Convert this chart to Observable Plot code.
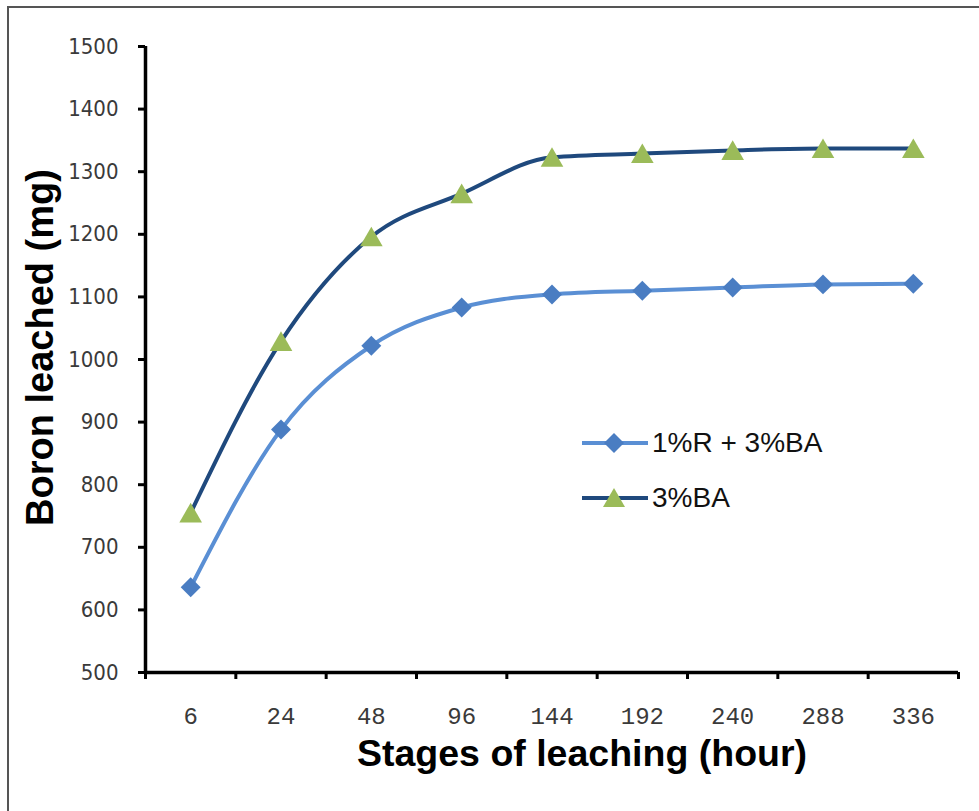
<!DOCTYPE html>
<html>
<head>
<meta charset="utf-8">
<script src="https://cdn.jsdelivr.net/npm/d3@7"></script>
<script src="https://cdn.jsdelivr.net/npm/@observablehq/plot@0.6"></script>
<style>
  html, body { margin: 0; padding: 0; background: #fff; }
  #wrap { position: relative; width: 979px; height: 811px; overflow: hidden; }
  #border { position: absolute; left: 7px; top: 6px; right: -10px; bottom: -10px;
            border-top: 2px solid #555; border-left: 2px solid #555; pointer-events: none; }
  #legend { position: absolute; left: 582px; top: 415px; font-family: "Liberation Sans", Arial, sans-serif;
            font-size: 28px; color: #111; }
  #legend .row { display: flex; align-items: center; height: 55px; }
  #legend svg { margin-right: 4px; }
</style>
</head>
<body>
<div id="wrap"><div id="chart"></div><div id="border"></div><div id="legend"></div></div>
<script>
const stages = ["6", "24", "48", "96", "144", "192", "240", "288", "336"];
const seriesNames = ["1%R + 3%BA", "3%BA"];
const valuesRBA = [636, 888, 1022, 1083, 1104, 1110, 1115, 1120, 1121];
const valuesBA  = [755, 1029, 1196, 1265, 1323, 1329, 1334, 1337, 1337];
const yTicks = [500, 600, 700, 800, 900, 1000, 1100, 1200, 1300, 1400, 1500];
const yDomain = [500, 1500];
const lineColors = ["#5A8FD4", "#1F497D"];
const markColors = ["#4A7DC2", "#9BBB59"];

const s1 = stages.map((s, i) => ({i, stage: s, value: valuesRBA[i]}));
const s2 = stages.map((s, i) => ({i, stage: s, value: valuesBA[i]}));
const xDomain = [-0.5, stages.length - 0.5];
const boundaries = d3.range(stages.length + 1).map(k => k - 0.5);

const plot = Plot.plot({
  width: 979,
  height: 811,
  marginLeft: 145,
  marginRight: 21,
  marginTop: 46,
  marginBottom: 139,
  style: {background: "#fff", overflow: "visible"},
  x: {type: "linear", domain: xDomain},
  y: {domain: yDomain},
  marks: [
    Plot.axisY({ticks: yTicks, tickSize: 7, tickPadding: 20, strokeWidth: 3, stroke: "#000",
      tickFormat: d => String(d), fontSize: 22, fill: "#3a3a3a",
      fontFamily: "DejaVu Sans Condensed, DejaVu Sans, sans-serif", label: null}),
    Plot.axisX({ticks: boundaries, tickSize: 7, strokeWidth: 3, stroke: "#000", tickFormat: () => "", label: null}),
    Plot.axisX({ticks: d3.range(stages.length), tickSize: 0, tickPadding: 34,
      tickFormat: i => stages[i], fontSize: 24, fill: "#3a3a3a",
      fontFamily: "Liberation Mono, Courier New, monospace", label: null}),
    Plot.ruleY([yDomain[0]], {stroke: "#000", strokeWidth: 3.5}),
    Plot.ruleX([xDomain[0]], {stroke: "#000", strokeWidth: 3.5}),
    Plot.line(s1, {x: "i", y: "value", stroke: lineColors[0], strokeWidth: 4, curve: "monotone-x"}),
    Plot.line(s2, {x: "i", y: "value", stroke: lineColors[1], strokeWidth: 4, curve: "monotone-x"}),
    Plot.dot(s1, {x: "i", y: "value", symbol: "diamond2", r: 9, fill: markColors[0], stroke: "none"}),
    Plot.dot(s2, {x: "i", y: "value", symbol: "triangle", r: 8.4, fill: markColors[1], stroke: "none", dy: 3}),
    Plot.text(["Boron leached (mg)"], {frameAnchor: "left", textAnchor: "middle", rotate: -90, dx: -105, dy: -12,
      fontSize: 38, fontWeight: "bold", fill: "#000", fontFamily: "Liberation Sans, Arial, sans-serif"}),
    Plot.text(["Stages of leaching (hour)"], {frameAnchor: "bottom", dx: 30, dy: 93,
      fontSize: 37.5, fontWeight: "bold", fill: "#000", fontFamily: "Liberation Sans, Arial, sans-serif"})
  ]
});
document.getElementById("chart").appendChild(plot);

// legend
const legend = document.getElementById("legend");
seriesNames.forEach((name, k) => {
  const row = document.createElement("div");
  row.className = "row";
  const sym = k === 0
    ? `<path d="M32,-10 L42,0 L32,10 L22,0 Z" fill="${markColors[0]}"/>`
    : `<path d="M32,-10 L43,9 L21,9 Z" fill="${markColors[1]}"/>`;
  row.innerHTML = `<svg width="66" height="24" viewBox="0 -12 66 24"><line x1="0" x2="66" y1="0" y2="0" stroke="${lineColors[k]}" stroke-width="4"/>${sym}</svg><span>${name}</span>`;
  legend.appendChild(row);
});
</script>
</body>
</html>
